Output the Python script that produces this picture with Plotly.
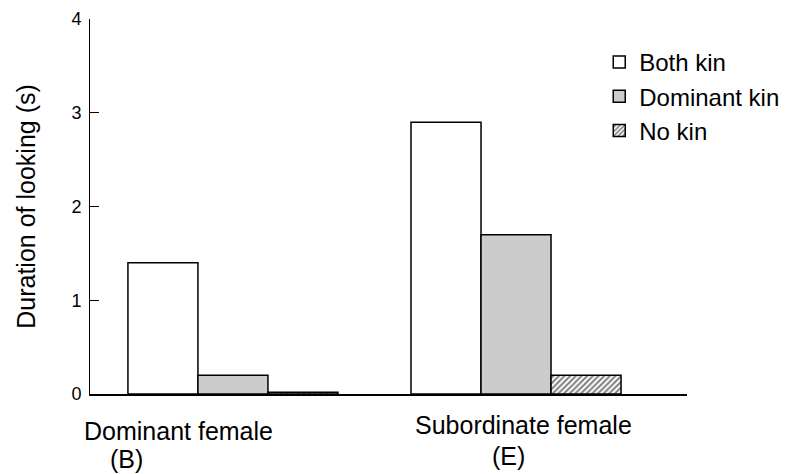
import plotly.graph_objects as go

categories = ["Dominant female", "Subordinate female"]
codes = ["(B)", "(E)"]
series_names = ["Both kin", "Dominant kin", "No kin"]
both_kin = [1.4, 2.9]
dominant_kin = [0.2, 1.7]
no_kin = [0.02, 0.2]
y_ticks = [0, 1, 2, 3, 4]

FONT = "Liberation Sans, Arial, Helvetica, sans-serif"

fig = go.Figure()
fig.add_trace(go.Bar(x=categories, y=both_kin, name=series_names[0],
                     marker=dict(color="white", line=dict(color="black", width=1.5))))
fig.add_trace(go.Bar(x=categories, y=dominant_kin, name=series_names[1],
                     marker=dict(color="#cccccc", line=dict(color="black", width=1.5))))
fig.add_trace(go.Bar(x=categories, y=no_kin, name=series_names[2],
                     marker=dict(color="white", line=dict(color="black", width=1.5),
                                 pattern=dict(shape="/", fgcolor="black", bgcolor="white",
                                              size=4, solidity=0.5))))

# category labels as annotations (offset like the reference)
label_pos = [(-0.194, -0.099, -0.375, -0.172), (1.025, -0.083, 0.972, -0.165)]
for cat, code, (x1, y1, x2, y2) in zip(categories, codes, label_pos):
    fig.add_annotation(x=x1, y=y1, xref="x", yref="paper", text=cat, showarrow=False,
                       font=dict(size=25, color="black", family=FONT), yanchor="middle")
    fig.add_annotation(x=x2, y=y2, xref="x", yref="paper", text=code, showarrow=False,
                       font=dict(size=25, color="black", family=FONT), yanchor="middle")

fig.update_layout(
    width=794, height=474,
    margin=dict(l=82, r=115, t=11, b=88, autoexpand=False),
    paper_bgcolor="white", plot_bgcolor="white",
    barmode="group", bargap=0.258, bargroupgap=0,
    font=dict(family=FONT, color="black"),
    showlegend=True,
    legend=dict(x=0.853, y=0.944, xanchor="left", yanchor="top",
                font=dict(size=24, color="black", family=FONT),
                bgcolor="rgba(0,0,0,0)", tracegroupgap=0, itemwidth=30),
    xaxis=dict(range=[-0.505, 1.604], showticklabels=False, ticks="",
               showline=True, linecolor="black", linewidth=2, showgrid=False,
               zeroline=False, automargin=False),
    yaxis=dict(range=[0, 4], tickvals=y_ticks, ticks="inside", ticklen=9,
               tickcolor="black", tickwidth=1, showline=True, linecolor="black",
               linewidth=1, showgrid=False, zeroline=False, automargin=False,
               ticklabelstandoff=4,
               tickfont=dict(size=18, color="black", family=FONT),
               title=dict(text="Duration of looking (s)", font=dict(size=25, color="black", family=FONT),
                          standoff=28)),
)

fig.write_html("out.html")
